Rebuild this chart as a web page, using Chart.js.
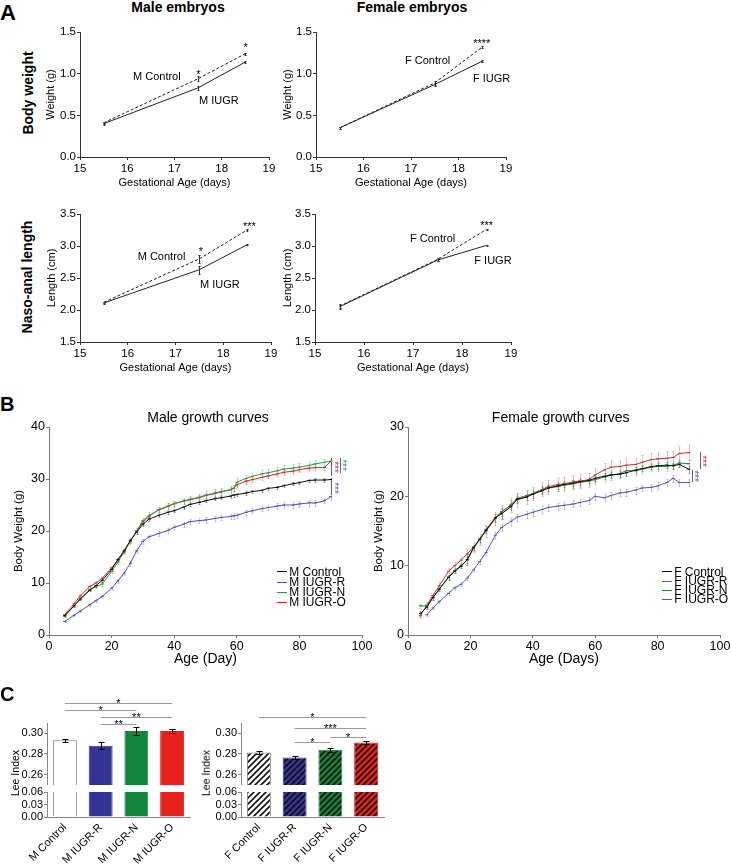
<!DOCTYPE html>
<html>
<head>
<meta charset="utf-8">
<script src="https://cdn.jsdelivr.net/npm/chart.js@4.4.0/dist/chart.umd.min.js"></script>
<style>
html, body { margin: 0; padding: 0; background: #fff; }
#fig { position: relative; width: 731px; height: 864px; overflow: hidden; font-family: "Liberation Sans", Arial, sans-serif; color: #000; }
#fig canvas { position: absolute; }
.t { position: absolute; white-space: nowrap; }
</style>
</head>
<body>
<div id="fig"></div>
<script>
// ---- Panel A: embryos ----
const gestAge = [15.5, 17.5, 18.5];
const gestTicks = [15, 16, 17, 18, 19];
const weightTicks = [0, 0.5, 1.0, 1.5];
const lengthTicks = [1.5, 2.0, 2.5, 3.0, 3.5];
const mWeightCtrl = [0.41, 0.94, 1.24];
const mWeightCtrlSem = [0.01, 0.03, 0.01];
const mWeightIugr = [0.40, 0.83, 1.14];
const mWeightIugrSem = [0.01, 0.02, 0.01];
const fWeightCtrl = [0.35, 0.89, 1.32];
const fWeightCtrlSem = [0.01, 0.02, 0.01];
const fWeightIugr = [0.35, 0.87, 1.15];
const fWeightIugrSem = [0.01, 0.02, 0.01];
const mLengthCtrl = [2.12, 2.80, 3.25];
const mLengthCtrlSem = [0.01, 0.06, 0.01];
const mLengthIugr = [2.11, 2.63, 3.02];
const mLengthIugrSem = [0.01, 0.06, 0.01];
const fLengthCtrl = [2.06, 2.79, 3.26];
const fLengthCtrlSem = [0.03, 0.02, 0.01];
const fLengthIugr = [2.05, 2.78, 3.01];
const fLengthIugrSem = [0.03, 0.02, 0.01];

// ---- Panel B: growth curves ----
const ageTicks = [0, 20, 40, 60, 80, 100];
const mBwTicks = [0, 10, 20, 30, 40];
const fBwTicks = [0, 10, 20, 30];
const mDays = [5, 8, 10, 13, 15, 17, 20, 22, 24, 26, 28, 30, 32, 35, 38, 40, 43, 45, 48, 50, 53, 55, 58, 59, 60, 63, 65, 68, 70, 73, 75, 78, 80, 83, 85, 88, 90];
const mCtrl = [3.7, 5.6, 6.9, 8.6, 9.5, 10.5, 12.6, 14.5, 16.2, 18.2, 19.8, 21.3, 22.3, 23.0, 23.6, 23.9, 24.6, 25.1, 25.5, 25.8, 26.2, 26.4, 26.7, 26.9, 27.0, 27.3, 27.6, 27.8, 28.2, 28.4, 28.7, 29.1, 29.3, 29.7, 29.8, 29.8, 29.9];
const mCtrlSem = [0.2, 0.2, 0.2, 0.2, 0.2, 0.3, 0.3, 0.3, 0.3, 0.3, 0.3, 0.3, 0.3, 0.3, 0.3, 0.3, 0.3, 0.3, 0.3, 0.3, 0.3, 0.3, 0.3, 0.3, 0.3, 0.3, 0.3, 0.3, 0.3, 0.3, 0.3, 0.3, 0.3, 0.3, 0.3, 0.3, 0.3];
const mIugrR = [2.6, 3.8, 4.6, 5.8, 6.6, 7.4, 9.0, 10.4, 11.9, 13.8, 16.2, 18.0, 18.9, 19.5, 20.1, 20.7, 21.3, 21.8, 22.0, 22.1, 22.4, 22.6, 22.8, 22.9, 23.0, 23.6, 23.9, 24.3, 24.5, 24.8, 25.0, 25.0, 25.2, 25.4, 25.4, 25.8, 26.6];
const mIugrRSem = [0.1, 0.2, 0.2, 0.2, 0.3, 0.3, 0.3, 0.4, 0.4, 0.5, 0.5, 0.5, 0.5, 0.5, 0.5, 0.5, 0.5, 0.5, 0.5, 0.5, 0.5, 0.5, 0.5, 0.5, 0.5, 0.5, 0.5, 0.5, 0.5, 0.5, 0.5, 0.5, 0.5, 0.5, 0.5, 0.5, 0.6];
const mIugrN = [3.6, 5.6, 7.0, 8.7, 9.3, 9.8, 12.2, 14.0, 15.9, 18.1, 20.0, 22.0, 23.0, 24.0, 24.7, 25.2, 25.8, 26.1, 26.5, 26.9, 27.3, 27.6, 27.9, 28.2, 29.4, 30.1, 30.5, 31.0, 31.2, 31.6, 31.9, 32.1, 32.3, 32.6, 32.9, 33.2, 33.4];
const mIugrNSem = [0.2, 0.3, 0.3, 0.3, 0.3, 0.3, 0.3, 0.4, 0.4, 0.5, 0.5, 0.5, 0.6, 0.6, 0.6, 0.6, 0.6, 0.7, 0.7, 0.7, 0.7, 0.7, 0.7, 0.7, 0.7, 0.7, 0.7, 0.7, 0.7, 0.7, 0.7, 0.7, 0.7, 0.7, 0.7, 0.7, 0.7];
const mIugrO = [3.9, 6.0, 7.5, 9.3, 10.0, 10.9, 12.9, 14.4, 16.1, 18.0, 20.0, 21.7, 22.8, 24.1, 24.8, 25.3, 25.7, 26.0, 26.4, 26.8, 27.2, 27.5, 28.0, 28.2, 28.9, 29.6, 29.9, 30.3, 30.6, 31.0, 31.3, 31.5, 31.8, 32.1, 32.2, 32.2, 33.4];
const mIugrOSem = [0.3, 0.3, 0.3, 0.3, 0.3, 0.3, 0.4, 0.4, 0.4, 0.5, 0.5, 0.5, 0.5, 0.5, 0.5, 0.5, 0.5, 0.5, 0.5, 0.5, 0.5, 0.5, 0.5, 0.5, 0.5, 0.5, 0.5, 0.5, 0.5, 0.5, 0.5, 0.5, 0.5, 0.5, 0.5, 0.5, 0.5];

const fDays = [4, 6, 8, 10, 13, 15, 17, 19, 21, 23, 25, 28, 30, 33, 35, 38, 40, 43, 45, 48, 50, 53, 55, 58, 60, 63, 65, 68, 70, 73, 75, 78, 80, 83, 85, 87, 90];
const fCtrl = [3.1, 4.0, 5.4, 6.6, 8.3, 9.2, 9.9, 10.9, 12.6, 13.8, 15.1, 16.9, 17.5, 18.5, 19.6, 19.9, 20.3, 20.8, 21.2, 21.5, 21.7, 21.9, 22.1, 22.3, 22.6, 22.9, 23.1, 23.2, 23.4, 23.8, 24.0, 24.3, 24.4, 24.5, 24.4, 24.6, 23.9];
const fCtrlSem = [0.3, 0.3, 0.3, 0.3, 0.3, 0.3, 0.3, 0.8, 0.4, 0.4, 0.4, 0.6, 0.8, 0.5, 0.5, 0.5, 0.5, 0.5, 0.4, 0.4, 0.4, 0.4, 0.4, 0.4, 0.4, 0.4, 0.4, 0.4, 0.4, 0.4, 0.4, 0.4, 0.4, 0.4, 0.4, 0.4, 0.5];
const fIugrR = [null, 2.9, 3.9, 4.8, 6.0, 6.8, 7.3, 8.2, 9.4, 10.6, 11.9, 14.4, 15.5, 16.4, 17.0, 17.4, 17.7, 18.1, 18.4, 18.6, 18.7, 18.9, 19.1, 19.4, 20.0, 19.8, 20.1, 20.5, 20.6, 20.9, 21.2, 21.3, 21.5, 22.0, 22.6, 22.0, 22.0];
const fIugrRSem = [null, 0.2, 0.2, 0.2, 0.3, 0.3, 0.3, 0.3, 0.3, 0.4, 0.4, 0.5, 0.5, 0.5, 0.5, 0.5, 0.5, 0.5, 0.5, 0.5, 0.5, 0.5, 0.5, 0.5, 0.5, 0.5, 0.5, 0.5, 0.5, 0.5, 0.5, 0.5, 0.5, 0.5, 0.5, 0.5, 0.5];
const fIugrN = [4.2, 4.2, 5.4, 6.6, 8.4, 9.3, 10.0, 10.8, 12.5, 13.8, 15.2, 16.9, 17.7, 18.8, 19.7, 20.1, 20.4, 20.9, 21.2, 21.4, 21.6, 21.8, 22.0, 22.2, 22.4, 22.8, 23.0, 23.3, 23.7, 23.7, 23.9, 24.2, 24.3, 24.3, 24.5, 24.8, 24.7];
const fIugrNSem = [0.3, 0.3, 0.3, 0.3, 0.3, 0.4, 0.4, 0.4, 0.4, 0.5, 0.5, 0.5, 0.5, 0.6, 0.6, 0.6, 0.6, 0.6, 0.6, 0.6, 0.6, 0.6, 0.6, 0.6, 0.6, 0.6, 0.6, 0.6, 0.6, 0.6, 0.6, 0.6, 0.6, 0.6, 0.6, 0.6, 0.6];
const fIugrO = [2.8, 4.3, 5.7, 7.1, 9.2, 10.0, 10.8, 11.7, 12.7, 13.8, 15.0, 16.8, 17.8, 18.7, 19.5, 19.9, 20.4, 21.0, 21.4, 21.7, 21.8, 22.1, 22.2, 22.4, 23.1, 23.8, 24.2, 24.3, 24.5, 24.6, 24.9, 25.3, 25.4, 25.5, 25.6, 26.2, 26.3];
const fIugrOSem = [0.3, 0.4, 0.4, 0.5, 0.5, 0.6, 0.6, 0.7, 0.7, 0.8, 0.8, 0.9, 1.0, 1.0, 1.0, 1.0, 1.0, 1.0, 1.0, 1.0, 1.0, 1.0, 1.0, 1.0, 1.0, 1.0, 1.0, 1.0, 1.0, 1.0, 1.0, 1.0, 1.0, 1.0, 1.0, 1.1, 1.1];

// ---- Panel C: Lee index ----
const leeLabelsM = ['M Control', 'M IUGR-R', 'M IUGR-N', 'M IUGR-O'];
const leeM = [0.2932, 0.2880, 0.3022, 0.3022];
const leeMSem = [0.0015, 0.0032, 0.0038, 0.0018];
const leeLabelsF = ['F Control', 'F IUGR-R', 'F IUGR-N', 'F IUGR-O'];
const leeF = [0.2815, 0.2766, 0.2840, 0.2912];
const leeFSem = [0.0012, 0.0016, 0.0022, 0.0018];
const leeUpperTicks = [0.26, 0.28, 0.30];
const leeLowerTicks = [0.00, 0.03, 0.06];
const sigM = [[0, 3, '*'], [0, 2, '*'], [1, 3, '**'], [1, 2, '**']];
const sigF = [[0, 3, '*'], [1, 3, '***'], [1, 2, '*'], [2, 3, '*']];

const FONT = '"Liberation Sans", Arial, Helvetica, sans-serif';
Chart.defaults.font.family = FONT;
Chart.defaults.color = '#000';

const fig = document.getElementById('fig');

// error bars (sem) for line points and bars
function drawErr(chart, o) {
  const ctx = chart.ctx, ys = chart.scales.y;
  ctx.save();
  chart.data.datasets.forEach((ds, i) => {
    if (!ds.sem) return;
    const meta = chart.getDatasetMeta(i);
    ctx.strokeStyle = ds.errColor || '#000';
    ctx.lineWidth = 1;
    ctx.beginPath();
    meta.data.forEach((el, j) => {
      const p = meta.controller.getParsed(j);
      const s = ds.sem[j];
      if (!p || p.y == null || isNaN(p.y) || s == null) return;
      const x = Math.round(el.x) + 0.5;
      const y1 = Math.round(ys.getPixelForValue(p.y - s)) + 0.5;
      const y2 = Math.round(ys.getPixelForValue(p.y + s)) + 0.5;
      ctx.moveTo(x, y1); ctx.lineTo(x, y2);
      const c = (o.cap || 0) / 2;
      if (c) {
        ctx.moveTo(x - c, y1); ctx.lineTo(x + c, y1);
        ctx.moveTo(x - c, y2); ctx.lineTo(x + c, y2);
      }
    });
    ctx.stroke();
  });
  ctx.restore();
}
const errorBars = {
  id: 'errorBars',
  beforeDatasetsDraw(chart, args, o) { if (o.under) drawErr(chart, o); },
  afterDatasetsDraw(chart, args, o) { if (!o.under) drawErr(chart, o); }
};

// significance brackets above bar pairs
const sigBrackets = {
  id: 'sigBrackets',
  afterDraw(chart, args, o) {
    if (!o.pairs) return;
    const ctx = chart.ctx, xs = chart.scales.x, top = chart.chartArea.top;
    ctx.save();
    ctx.font = '11px ' + FONT;
    ctx.textAlign = 'center';
    ctx.textBaseline = 'alphabetic';
    o.pairs.forEach((p, k) => {
      const x1 = xs.getPixelForValue(p[0]), x2 = xs.getPixelForValue(p[1]);
      const y = Math.round(top + o.levels[k]) + 0.5;
      ctx.strokeStyle = '#9a9a9a';
      ctx.lineWidth = 1;
      ctx.beginPath(); ctx.moveTo(x1, y); ctx.lineTo(x2, y); ctx.stroke();
      ctx.fillStyle = '#000';
      ctx.fillText(p[2], (x1 + x2) / 2, y + 3.6);
    });
    ctx.restore();
  }
};
Chart.register(errorBars, sigBrackets);

function mount(b) {
  const c = document.createElement('canvas');
  const left = b.L - b.yW, top = b.T - b.padT;
  const w = b.R + b.padR - left, h = b.B + b.xH - top;
  c.width = w; c.height = h;
  c.style.left = left + 'px'; c.style.top = top + 'px';
  c.style.width = w + 'px'; c.style.height = h + 'px';
  fig.appendChild(c);
  return c;
}

function axis(pos, cfg) {
  const isY = pos === 'left';
  return {
    type: 'linear', position: pos,
    min: cfg.min ?? cfg.ticks[0], max: cfg.max ?? cfg.ticks[cfg.ticks.length - 1],
    afterBuildTicks: s => { s.ticks = cfg.ticks.map(v => ({ value: v })); },
    afterFit: s => {
      if (isY) s.width = cfg.size; else s.height = cfg.size;
      s.paddingTop = s.paddingBottom = s.paddingLeft = s.paddingRight = 0;
    },
    grid: { drawOnChartArea: false, drawTicks: true, tickLength: 3, color: cfg.color, lineWidth: 1 },
    border: { display: true, color: cfg.color, width: 1 },
    ticks: { padding: cfg.pad ?? 1, font: { size: cfg.tickSize }, color: '#000', maxRotation: 0, autoSkip: false, callback: cfg.fmt || (v => v) },
    title: cfg.title ? { display: true, text: cfg.title, font: { size: cfg.titleSize }, padding: 0, color: '#000' } : { display: false }
  };
}

function opts(b, scales, plugins) {
  return {
    responsive: false, animation: false, events: [],
    layout: { padding: { top: b.padT, right: b.padR, left: 0, bottom: 0 } },
    plugins: Object.assign({ legend: { display: false }, tooltip: { enabled: false } }, plugins),
    scales
  };
}

const xy = (xs, ys) => xs.map((x, i) => ({ x, y: ys[i] }));

// Panel A charts
function embryoChart(b, yTicks, yTitle, ctrl, ctrlSem, iugr, iugrSem) {
  new Chart(mount(b), {
    type: 'line',
    data: { datasets: [
      { label: 'Control', data: xy(gestAge, ctrl), sem: ctrlSem, errColor: '#333', borderColor: '#222', borderWidth: 1, borderDash: [3, 2], pointRadius: 0, tension: 0 },
      { label: 'IUGR', data: xy(gestAge, iugr), sem: iugrSem, errColor: '#333', borderColor: '#222', borderWidth: 1, pointRadius: 0, tension: 0 }
    ] },
    options: opts(b, {
      x: axis('bottom', { ticks: gestTicks, size: b.xH, title: 'Gestational Age (days)', titleSize: 11, tickSize: 11.5, color: '#333', pad: 2 }),
      y: axis('left', { ticks: yTicks, size: b.yW, title: yTitle, titleSize: 11, tickSize: 11.5, color: '#333', fmt: v => v.toFixed(1) })
    }, { errorBars: { cap: 2 } })
  });
}
embryoChart({ L: 80, T: 32, R: 269, B: 157, yW: 36, xH: 33, padT: 8, padR: 10 }, weightTicks, 'Weight (g)', mWeightCtrl, mWeightCtrlSem, mWeightIugr, mWeightIugrSem);
embryoChart({ L: 316, T: 32, R: 506, B: 157, yW: 35, xH: 33, padT: 8, padR: 10 }, weightTicks, 'Weight (g)', fWeightCtrl, fWeightCtrlSem, fWeightIugr, fWeightIugrSem);
embryoChart({ L: 80, T: 214, R: 271, B: 342, yW: 35, xH: 33, padT: 8, padR: 10 }, lengthTicks, 'Length (cm)', mLengthCtrl, mLengthCtrlSem, mLengthIugr, mLengthIugrSem);
embryoChart({ L: 315, T: 214, R: 511, B: 342, yW: 34, xH: 33, padT: 8, padR: 10 }, lengthTicks, 'Length (cm)', fLengthCtrl, fLengthCtrlSem, fLengthIugr, fLengthIugrSem);

// Panel B charts
function growthChart(b, days, series, yTicks, xTitle) {
  return new Chart(mount(b), {
    type: 'line',
    data: { datasets: series.map(s => ({
      label: s.label, data: xy(days, s.data), sem: s.sem, errColor: s.err,
      borderColor: s.color, borderWidth: 1, pointStyle: 'line', pointRadius: 1.5, pointBorderWidth: 1,
      pointBorderColor: s.color, tension: 0
    })) },
    options: opts(b, {
      x: axis('bottom', { ticks: ageTicks, size: b.xH, title: xTitle, titleSize: 14, tickSize: 12.5, color: '#777', pad: 1 }),
      y: axis('left', { ticks: yTicks, size: b.yW, title: 'Body Weight (g)', titleSize: 11.5, tickSize: 12.5, color: '#777' })
    }, { errorBars: { under: true, cap: 2 } })
  });
}
const mGrowth = growthChart({ L: 49, T: 427, R: 362, B: 635, yW: 37, xH: 33, padT: 8, padR: 12 }, mDays, [
  { label: 'M Control', data: mCtrl, sem: mCtrlSem, color: '#111111', err: 'rgba(60,60,60,0.45)' },
  { label: 'M IUGR-R', data: mIugrR, sem: mIugrRSem, color: '#4f4fc4', err: 'rgba(110,110,210,0.4)' },
  { label: 'M IUGR-N', data: mIugrN, sem: mIugrNSem, color: '#22a044', err: 'rgba(60,170,90,0.4)' },
  { label: 'M IUGR-O', data: mIugrO, sem: mIugrOSem, color: '#ee2222', err: 'rgba(240,90,90,0.4)' }
], mBwTicks, 'Age (Day)');
const fGrowth = growthChart({ L: 408, T: 427, R: 720, B: 635, yW: 36, xH: 33, padT: 8, padR: 11 }, fDays, [
  { label: 'F Control', data: fCtrl, sem: fCtrlSem, color: '#111111', err: 'rgba(60,60,60,0.45)' },
  { label: 'F IUGR-R', data: fIugrR, sem: fIugrRSem, color: '#5656c8', err: 'rgba(110,110,210,0.4)' },
  { label: 'F IUGR-N', data: fIugrN, sem: fIugrNSem, color: '#1f8a3c', err: 'rgba(60,170,90,0.4)' },
  { label: 'F IUGR-O', data: fIugrO, sem: fIugrOSem, color: '#c83434', err: 'rgba(220,90,90,0.4)' }
], fBwTicks, 'Age (Days)');

// Panel C charts (broken y axis = upper + lower chart)
function hatch(bg, fg) {
  const s = 6, c = document.createElement('canvas');
  c.width = c.height = s;
  const g = c.getContext('2d');
  g.fillStyle = bg; g.fillRect(0, 0, s, s);
  g.strokeStyle = fg; g.lineWidth = 1.6;
  g.beginPath();
  g.moveTo(0, s); g.lineTo(s, 0);
  g.moveTo(-1, 1); g.lineTo(1, -1);
  g.moveTo(s - 1, s + 1); g.lineTo(s + 1, s - 1);
  g.stroke();
  return g.createPattern(c, 'repeat');
}
const leeColors = ['#ffffff', '#343494', '#13843b', '#e5221d'];
const leeBorders = ['#808080', '#343494', '#13843b', '#e5221d'];

function leeCharts(bu, bl, labels, vals, sems, fills, sig, levels) {
  const ds = extra => Object.assign({
    data: vals, backgroundColor: fills, borderColor: leeBorders, borderWidth: 1, borderSkipped: 'bottom',
    barPercentage: 0.67, categoryPercentage: 1, clip: 0
  }, extra);
  new Chart(mount(bu), {
    type: 'bar',
    data: { labels, datasets: [ds({ sem: sems, errColor: '#000' })] },
    options: opts(bu, {
      x: { type: 'category', display: false },
      y: axis('left', { ticks: leeUpperTicks, min: 0.25, max: 0.31, size: bu.yW, tickSize: 11, color: '#888', fmt: v => v.toFixed(2) })
    }, { errorBars: { cap: 6 }, sigBrackets: { pairs: sig, levels } })
  });
  new Chart(mount(bl), {
    type: 'bar',
    data: { labels, datasets: [ds({})] },
    options: opts(bl, {
      x: {
        type: 'category', position: 'bottom',
        afterFit: s => { s.height = bl.xH; s.paddingLeft = s.paddingRight = 0; },
        grid: { drawOnChartArea: false, drawTicks: false },
        border: { display: true, color: '#888', width: 1 },
        ticks: { minRotation: 45, maxRotation: 45, autoSkip: false, padding: 4, font: { size: 11 }, color: '#000' }
      },
      y: axis('left', { ticks: leeLowerTicks, size: bl.yW, tickSize: 11, color: '#888', fmt: v => v.toFixed(2) })
    })
  });
}
leeCharts({ L: 47, T: 723, R: 190, B: 785, yW: 47, xH: 0, padT: 33, padR: 10 },
  { L: 47, T: 792, R: 190, B: 817, yW: 47, xH: 47, padT: 6, padR: 10 },
  leeLabelsM, leeM, leeMSem, leeColors, sigM, [-20.3, -13, -5.7, 1.3]);
leeCharts({ L: 241, T: 723, R: 384, B: 785, yW: 41, xH: 0, padT: 33, padR: 10 },
  { L: 241, T: 792, R: 384, B: 817, yW: 41, xH: 47, padT: 6, padR: 10 },
  leeLabelsF, leeF, leeFSem, leeColors.map(c => hatch(c, '#111')), sigF, [-5.7, 5.3, 18.7, 14.3]);

// ---- text overlays ----
function txt(s, x, y, o = {}) {
  const size = o.size || 11;
  const d = document.createElement('div');
  d.className = 't';
  d.textContent = s;
  d.style.fontSize = size + 'px';
  d.style.lineHeight = size + 'px';
  if (o.bold) d.style.fontWeight = 'bold';
  if (o.color) d.style.color = o.color;
  d.style.left = x + 'px';
  if (o.rot) {
    d.style.top = y + 'px';
    d.style.transform = `translate(-50%,-50%) rotate(${o.rot}deg)`;
  } else {
    d.style.top = (y - size * (o.star ? 0.28 : 0.49)) + 'px';
    if (o.align === 'center') d.style.transform = 'translateX(-50%)';
  }
  fig.appendChild(d);
}
function vline(x, y1, y2, color) {
  const d = document.createElement('div');
  d.style.cssText = `position:absolute;left:${x}px;top:${y1}px;width:1px;height:${y2 - y1}px;background:${color}`;
  fig.appendChild(d);
}
function legend(chart, x, rows) {
  chart.data.datasets.forEach((ds, i) => {
    const d = document.createElement('div');
    d.style.cssText = `position:absolute;left:${x}px;top:${rows[i] - 0.5}px;width:10px;height:1px;background:${ds.borderColor}`;
    fig.appendChild(d);
    txt(ds.label, x + 12.5, rows[i], { size: 12 });
  });
}

// panel A
txt('A', 0, 12.5, { size: 22, bold: true });
txt('Male embryos', 178, 7, { size: 14, bold: true, align: 'center' });
txt('Female embryos', 412, 7, { size: 14, bold: true, align: 'center' });
txt('Body weight', 27.5, 92.5, { size: 14, bold: true, rot: -90 });
txt('Naso-anal length', 27, 277, { size: 14, bold: true, rot: -90 });
txt('M Control', 133, 76.7);
txt('M IUGR', 199, 100);
txt('*', 198.3, 72, { star: true, align: 'center' });
txt('*', 245.7, 45, { star: true, align: 'center' });
txt('F Control', 405, 60);
txt('F IUGR', 473, 78.8);
txt('****', 481.7, 40.7, { star: true, align: 'center' });
txt('M Control', 137.7, 256.7);
txt('M IUGR', 200, 284);
txt('*', 201, 249.3, { star: true, align: 'center' });
txt('***', 249.3, 224, { star: true, align: 'center' });
txt('F Control', 410, 238.8);
txt('F IUGR', 474.3, 260);
txt('***', 486.7, 222.7, { star: true, align: 'center' });

// panel B
txt('B', 0, 403.3, { size: 20, bold: true });
txt('Male growth curves', 208, 416.7, { size: 14, align: 'center' });
txt('Female growth curves', 560.7, 416.7, { size: 14, align: 'center' });
legend(mGrowth, 276.7, [571.7, 582, 592.3, 602]);
legend(fGrowth, 661.7, [571.7, 581, 590.3, 599.3]);
vline(331, 457.5, 476, '#666');
vline(339.5, 457.5, 473, '#666');
vline(331, 480, 495, '#666');
txt('***', 333.5, 467, { size: 10, rot: 90, color: '#ee2222' });
txt('***', 341.5, 465, { size: 10, rot: 90, color: '#22a044' });
txt('***', 333.5, 488, { size: 10, rot: 90, color: '#4f4fc4' });
vline(699.5, 452, 469, '#666');
vline(691.5, 470, 482, '#666');
txt('***', 702, 461, { size: 10, rot: 90, color: '#c83434' });
txt('***', 694, 476, { size: 10, rot: 90, color: '#4f4fc4' });

// panel C
txt('C', 0, 693.3, { size: 20, bold: true });
txt('Lee Index', 15, 772.5, { size: 10.5, rot: -90 });
txt('Lee Index', 206, 772.5, { size: 10.5, rot: -90 });
</script>
</body>
</html>
